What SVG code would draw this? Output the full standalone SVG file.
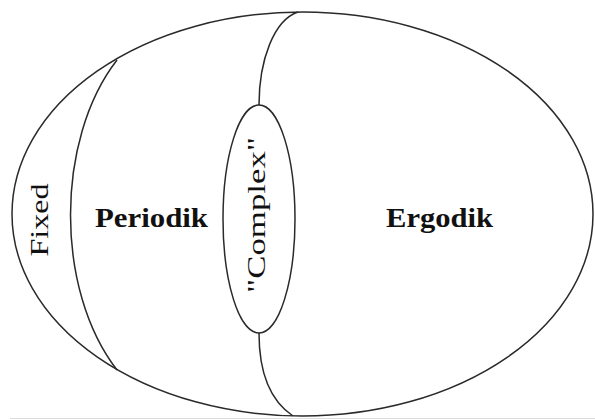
<svg xmlns="http://www.w3.org/2000/svg" width="595" height="419" viewBox="0 0 595 419">
<style>
.ln{fill:none;stroke:#2a2a2a;stroke-width:1.5}
.lbl{font-family:"Liberation Serif","Times New Roman",serif;fill:#111}
.b{font-weight:bold;font-size:28px}
.r{font-size:25px}
</style>
<rect width="595" height="419" fill="#fff"/>
<line x1="10" y1="418.5" x2="595" y2="418.5" stroke="#dcdcdc" stroke-width="1"/>
<g id="universe"><ellipse class="ln" cx="302.5" cy="214" rx="290.5" ry="202"/></g>
<g id="connectors">
<path class="ln" d="M117,60 C55,140 55,290 117,370"/>
<path class="ln" d="M259,105 C259,60 274,20 298,12"/>
<path class="ln" d="M259,333 C259,375 272,402 293,416"/>
</g>
<g id="complex"><ellipse class="ln" cx="259" cy="219" rx="36" ry="114"/>
<text class="lbl r" transform="translate(265,215) rotate(-90)" text-anchor="middle" textLength="156" lengthAdjust="spacingAndGlyphs">"Complex"</text></g>
<g id="fixed"><text class="lbl r" transform="translate(48,220) rotate(-90)" text-anchor="middle" textLength="73" lengthAdjust="spacingAndGlyphs">Fixed</text></g>
<g id="periodik"><text class="lbl b" x="95" y="227" textLength="113" lengthAdjust="spacingAndGlyphs">Periodik</text></g>
<g id="ergodik"><text class="lbl b" x="386" y="227" textLength="107" lengthAdjust="spacingAndGlyphs">Ergodik</text></g>
</svg>
